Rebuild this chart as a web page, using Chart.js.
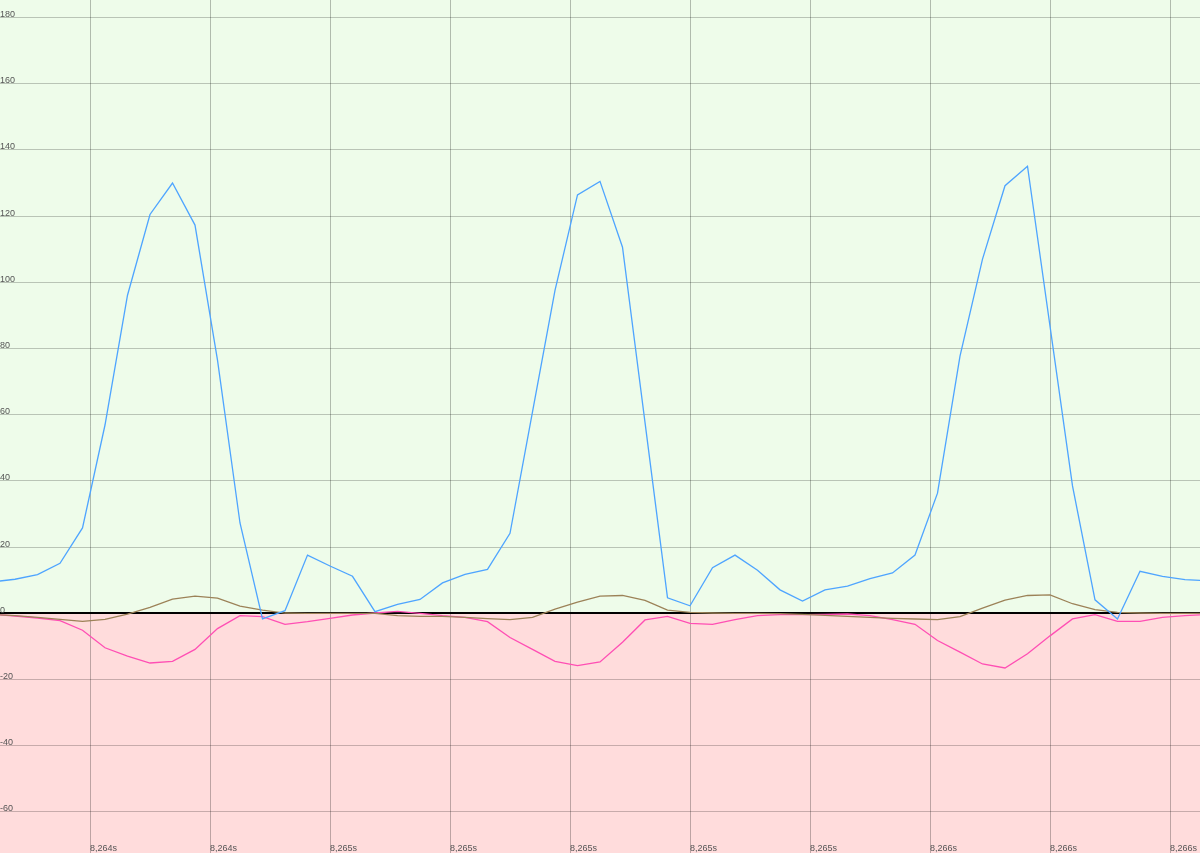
<!DOCTYPE html>
<html>
<head>
<meta charset="utf-8">
<script src="https://cdn.jsdelivr.net/npm/chart.js@4.4.1/dist/chart.umd.min.js"></script>
<style>
  html, body { margin: 0; padding: 0; background: #fff; }
  #wrap { width: 1200px; height: 853px; }
</style>
</head>
<body>
<div id="wrap"><canvas id="lineChart"></canvas></div>
<script>
// sample times in ms (one sample every 0.0375 ms)
const sampleStart = 8264.0375;
const sampleStep = 0.0375;

const blueValues = [
  9.5, 10.3, 11.7, 15.1, 25.8, 56.9, 96.1, 120.5, 130.0, 117.3,
  76.5, 27.3, -1.7, 0.8, 17.6, 14.3, 11.2, 0.5, 2.7, 4.2,
  9.2, 11.8, 13.3, 24.2, 60.9, 97.6, 126.4, 130.5, 110.6, 57.7,
  4.7, 2.3, 13.8, 17.6, 13.0, 7.1, 3.7, 7.1, 8.2, 10.5,
  12.2, 17.6, 36.3, 77.7, 107.0, 129.2, 135.1, 86.8, 38.5, 4.1,
  -1.7, 12.7, 11.2, 10.2, 9.8
];
const brownValues = [
  -0.3, -0.7, -1.2, -1.8, -2.4, -1.8, -0.2, 1.8, 4.3, 5.2,
  4.6, 2.2, 1.0, 0.1, 0.0, 0.0, 0.0, 0.0, -0.7, -0.9,
  -0.9, -1.2, -1.6, -1.9, -1.2, 1.3, 3.4, 5.2, 5.4, 3.9,
  1.0, 0.3, 0.1, 0.0, 0.0, -0.1, -0.3, -0.6, -0.9, -1.2,
  -1.5, -1.7, -1.9, -1.0, 1.6, 4.0, 5.4, 5.6, 2.9, 1.1,
  0.3, 0.1, 0.0, 0.0, 0.0
];
const pinkValues = [
  -0.3, -0.8, -1.4, -2.2, -5.1, -10.4, -12.9, -15.0, -14.5, -10.9,
  -4.6, -0.7, -1.0, -3.3, -2.5, -1.5, -0.5, 0.1, 0.6, 0.0,
  -0.7, -1.2, -2.5, -7.3, -10.9, -14.5, -15.8, -14.7, -8.7, -2.0,
  -0.9, -3.0, -3.3, -1.9, -0.7, -0.4, -0.4, -0.3, -0.2, -0.7,
  -1.9, -3.3, -8.2, -11.7, -15.3, -16.5, -12.2, -6.8, -1.7, -0.4,
  -2.4, -2.4, -1.2, -0.7, -0.3
];

// x ticks in ms, labelled in seconds
const xTicks = [8264.2, 8264.4, 8264.6, 8264.8, 8265.0, 8265.2, 8265.4, 8265.6, 8265.8, 8266.0];
const xMin = 8264.05, xMax = 8266.05;
const yMin = -72.4, yMax = 185.3, yStep = 20;

function toPoints(values) {
  return values.map((v, i) => ({ x: sampleStart + i * sampleStep, y: v }));
}

// green above zero, pink below
const zoneBackground = {
  id: "zoneBackground",
  beforeDraw(chart) {
    const { ctx, chartArea, scales } = chart;
    const zero = scales.y.getPixelForValue(0);
    ctx.save();
    ctx.fillStyle = "#eefcea";
    ctx.fillRect(chartArea.left, chartArea.top, chartArea.width, zero - chartArea.top);
    ctx.fillStyle = "#ffdcdc";
    ctx.fillRect(chartArea.left, zero, chartArea.width, chartArea.bottom - zero);
    ctx.restore();
  }
};

// labels sit inside the plot, so no room is kept for them
function noPadding(scale) {
  scale.paddingLeft = 0;
  scale.paddingRight = 0;
  scale.paddingTop = 0;
  scale.paddingBottom = 0;
}

const tickFont = { family: "'Liberation Sans', Arial, sans-serif", size: 9 };

const ctx = document.getElementById("lineChart").getContext("2d");
new Chart(ctx, {
  type: "line",
  data: {
    datasets: [
      { data: toPoints(blueValues), borderColor: "#4ea4ff", borderWidth: 1.3 },
      { data: toPoints(brownValues), borderColor: "#9c8258", borderWidth: 1.3 },
      { data: toPoints(pinkValues), borderColor: "#ff4fb4", borderWidth: 1.3 }
    ]
  },
  options: {
    responsive: true,
    maintainAspectRatio: false,
    animation: false,
    layout: { padding: 0 },
    elements: { point: { radius: 0 }, line: { tension: 0 } },
    plugins: { legend: { display: false }, tooltip: { enabled: false } },
    scales: {
      x: {
        type: "linear",
        min: xMin,
        max: xMax,
        border: { display: false },
        grid: { color: "rgba(0,0,0,0.26)", lineWidth: 1, drawTicks: false },
        afterBuildTicks: scale => { scale.ticks = xTicks.map(v => ({ value: v })); },
        afterFit: noPadding,
        ticks: {
          mirror: true,
          padding: -1,
          align: "start",
          maxRotation: 0,
          autoSkip: false,
          color: "#555",
          font: tickFont,
          callback: v => (v / 1000).toFixed(3).replace(".", ",") + "s"
        }
      },
      y: {
        min: yMin,
        max: yMax,
        border: { display: false },
        afterFit: noPadding,
        grid: {
          drawTicks: false,
          color: c => c.tick && c.tick.value === 0 ? "#000" : "rgba(0,0,0,0.22)",
          lineWidth: c => c.tick && c.tick.value === 0 ? 2 : 1
        },
        ticks: {
          stepSize: yStep,
          includeBounds: false,
          mirror: true,
          padding: 0,
          labelOffset: -3,
          color: "#555",
          font: tickFont
        }
      }
    }
  },
  plugins: [zoneBackground]
});
</script>
</body>
</html>
